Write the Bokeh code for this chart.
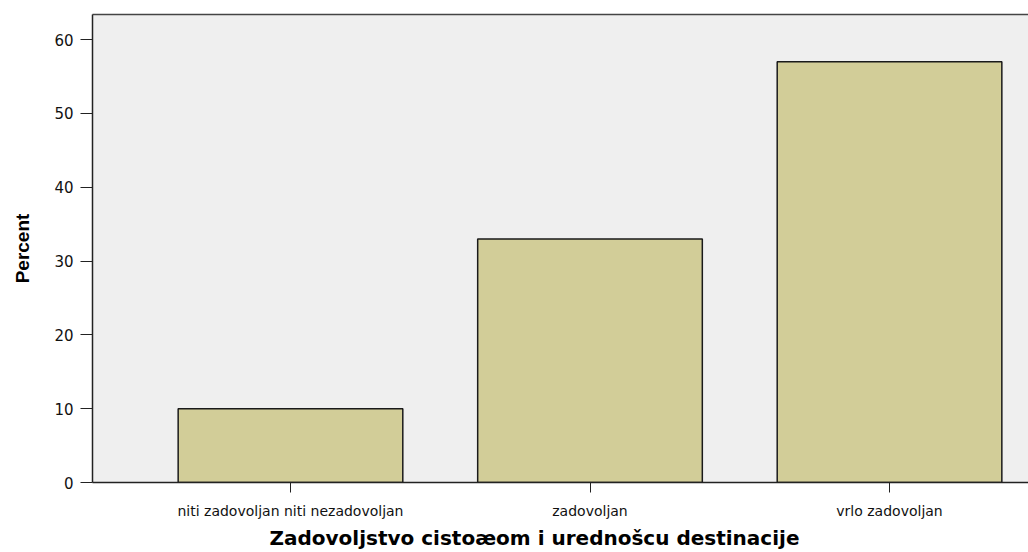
from bokeh.plotting import figure
from bokeh.models import Range1d, FixedTicker, LinearAxis, Title, ColumnDataSource
from bokeh.embed import file_html
from bokeh.resources import INLINE

categories = ["niti zadovoljan niti nezadovoljan", "zadovoljan", "vrlo zadovoljan"]
percent = [10.0, 33.0, 57.0]
positions = [0.5, 1.5, 2.5]
y_ticks = [0, 10, 20, 30, 40, 50, 60]
x_title = "Zadovoljstvo cistoæom i urednošcu destinacije"
y_title = "Percent"

src = ColumnDataSource(dict(x=positions, top=percent, cat=categories))

p = figure(width=1028, height=552, output_backend="svg", toolbar_location=None,
           x_range=Range1d(-0.161, 2.964), y_range=Range1d(0, 63.4),
           min_border_left=92, min_border_right=0, min_border_top=14, min_border_bottom=69)

p.background_fill_color = "#EFEFEF"
p.border_fill_color = "white"
p.outline_line_color = None
p.grid.grid_line_color = None

p.vbar(x="x", top="top", width=0.75, bottom=0, source=src,
       fill_color="#D2CD98", line_color="#1a1a1a", line_width=1.5)

ax = p.xaxis[0]
ax.ticker = FixedTicker(ticks=positions)
ax.major_label_overrides = {pos: c for pos, c in zip(positions, categories)}
ax.major_label_text_font = "DejaVu Sans"
ax.major_label_text_font_size = "14px"
ax.major_label_text_color = "#111111"
ax.major_tick_in = 0
ax.major_tick_out = 10
ax.minor_tick_line_color = None
ax.axis_line_color = "#222222"
ax.axis_line_width = 1.5
ax.major_tick_line_color = "#222222"
ax.major_label_standoff = 10

ay = p.yaxis[0]
ay.ticker = FixedTicker(ticks=y_ticks)
ay.major_label_text_font = "DejaVu Sans"
ay.major_label_text_font_size = "15px"
ay.major_label_text_color = "#111111"
ay.major_tick_in = 0
ay.major_tick_out = 12
ay.minor_tick_line_color = None
ay.axis_line_color = "#222222"
ay.axis_line_width = 1.5
ay.major_tick_line_color = "#222222"
ay.major_label_standoff = 7
ay.axis_label = y_title
ay.axis_label_text_font = "Liberation Sans"
ay.axis_label_text_font_style = "bold"
ay.axis_label_text_font_size = "19px"
ay.axis_label_text_color = "#000000"
ay.axis_label_standoff = 18

top_axis = LinearAxis(major_tick_line_color=None, minor_tick_line_color=None,
                      major_label_text_font_size="0px", major_label_standoff=0,
                      axis_line_color="#444444", axis_line_width=1.5,
                      ticker=FixedTicker(ticks=[]))
p.add_layout(top_axis, "above")

t = Title(text=x_title, align="left", offset=177,
          text_font="DejaVu Sans", text_font_style="bold", text_font_size="20px",
          text_color="#000000", standoff=5)
p.add_layout(t, "below")

open("out.html", "w").write(file_html(p, INLINE))
